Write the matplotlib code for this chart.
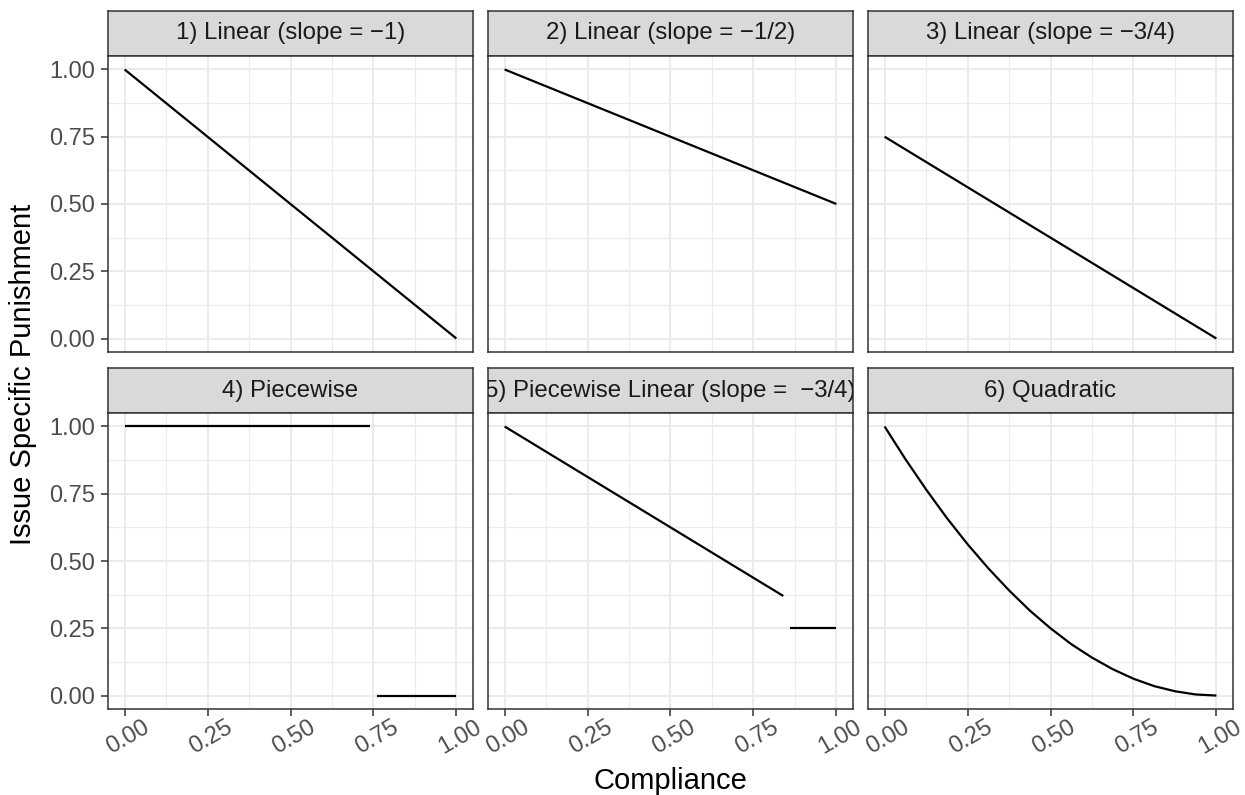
import matplotlib.pyplot as plt
import matplotlib.transforms as mtransforms
from matplotlib.ticker import MultipleLocator

plt.rcParams['font.family'] = ['Liberation Sans', 'DejaVu Sans']

# panel titles (facet strips)
titles = [
    "1) Linear (slope = \u22121)",
    "2) Linear (slope = \u22121/2)",
    "3) Linear (slope = \u22123/4)",
    "4) Piecewise",
    "5) Piecewise Linear (slope =  \u22123/4)",
    "6) Quadratic",
]

# segments per panel
lin1_x = [0.0, 1.0]
lin1_y = [1.0, 0.0]
lin2_x = [0.0, 1.0]
lin2_y = [1.0, 0.5]
lin3_x = [0.0, 1.0]
lin3_y = [0.75, 0.0]
pw_hi_x = [0.0, 0.74]
pw_hi_y = [1.0, 1.0]
pw_lo_x = [0.76, 1.0]
pw_lo_y = [0.0, 0.0]
pwl_a_x = [0.0, 0.84]
pwl_a_y = [1.0, 0.37]
pwl_b_x = [0.86, 1.0]
pwl_b_y = [0.25, 0.25]
quad_x = [0.0, 0.0625, 0.125, 0.1875, 0.25, 0.3125, 0.375, 0.4375, 0.5,
          0.5625, 0.625, 0.6875, 0.75, 0.8125, 0.875, 0.9375, 1.0]
quad_y = [1.0, 0.879, 0.766, 0.660, 0.5625, 0.473, 0.391, 0.316, 0.25,
          0.191, 0.141, 0.098, 0.0625, 0.035, 0.016, 0.004, 0.0]

panel_lines = [
    [(lin1_x, lin1_y)],
    [(lin2_x, lin2_y)],
    [(lin3_x, lin3_y)],
    [(pw_hi_x, pw_hi_y), (pw_lo_x, pw_lo_y)],
    [(pwl_a_x, pwl_a_y), (pwl_b_x, pwl_b_y)],
    [(quad_x, quad_y)],
]

ticks = [0.0, 0.25, 0.5, 0.75, 1.0]
tick_labels = ["0.00", "0.25", "0.50", "0.75", "1.00"]

W, H = 1245, 795
fig = plt.figure(figsize=(W / 100, H / 100), dpi=100)

col_left = [108, 488, 868]
panel_w = 365
row_strip_top = [11, 368]
strip_h = 45
panel_h = 296

grey20 = "#333333"
shift = mtransforms.ScaledTranslation(3.5 / 100, 0, fig.dpi_scale_trans)


def px_rect(x, y, w, h):
    return [x / W, 1 - (y + h) / H, w / W, h / H]


for i, (title, lines) in enumerate(zip(titles, panel_lines)):
    r, c = divmod(i, 3)
    x0 = col_left[c]
    y0 = row_strip_top[r]

    # strip
    sax = fig.add_axes(px_rect(x0, y0, panel_w, strip_h))
    sax.set_facecolor("#D9D9D9")
    sax.set_xticks([])
    sax.set_yticks([])
    for sp in sax.spines.values():
        sp.set_color(grey20)
        sp.set_linewidth(1.1)
    sax.text(0.5, 0.5, title, transform=sax.transAxes, ha="center",
             va="center", fontsize=17.3, color="#1A1A1A", clip_on=True)

    # panel
    ax = fig.add_axes(px_rect(x0, y0 + strip_h, panel_w, panel_h))
    for lx, ly in lines:
        ax.plot(lx, ly, color="black", lw=1.6, solid_capstyle="butt", zorder=3)
    ax.set_xlim(-0.05, 1.05)
    ax.set_ylim(-0.05, 1.05)
    ax.xaxis.set_minor_locator(MultipleLocator(0.125))
    ax.yaxis.set_minor_locator(MultipleLocator(0.125))
    ax.grid(which="major", color="#EBEBEB", lw=1.5)
    ax.grid(which="minor", color="#EBEBEB", lw=0.8)
    ax.set_axisbelow(True)
    for sp in ax.spines.values():
        sp.set_color(grey20)
        sp.set_linewidth(1.1)
    ax.set_xticks(ticks)
    ax.set_yticks(ticks)
    ax.tick_params(which="minor", length=0)
    ax.tick_params(which="major", length=5, width=1.1, color=grey20,
                   labelsize=17, labelcolor="#4D4D4D")
    ax.tick_params(axis="y", pad=4.5)
    ax.tick_params(axis="x", pad=0)
    if c == 0:
        ax.set_yticklabels(tick_labels)
    else:
        ax.tick_params(axis="y", length=0, labelleft=False)
    if r == 1:
        ax.set_xticklabels(tick_labels, rotation=30, ha="center", va="top")
        for lab in ax.get_xticklabels():
            lab.set_transform(lab.get_transform() + shift)
    else:
        ax.tick_params(axis="x", length=0, labelbottom=False)

fig.text(23 / W, 1 - 374 / H, "Issue Specific Punishment", rotation=90,
         ha="center", va="center", fontsize=21)
fig.text(670 / W, 1 - 781 / H, "Compliance", ha="center", va="center",
         fontsize=21)

fig.savefig("out.png", dpi=100)
